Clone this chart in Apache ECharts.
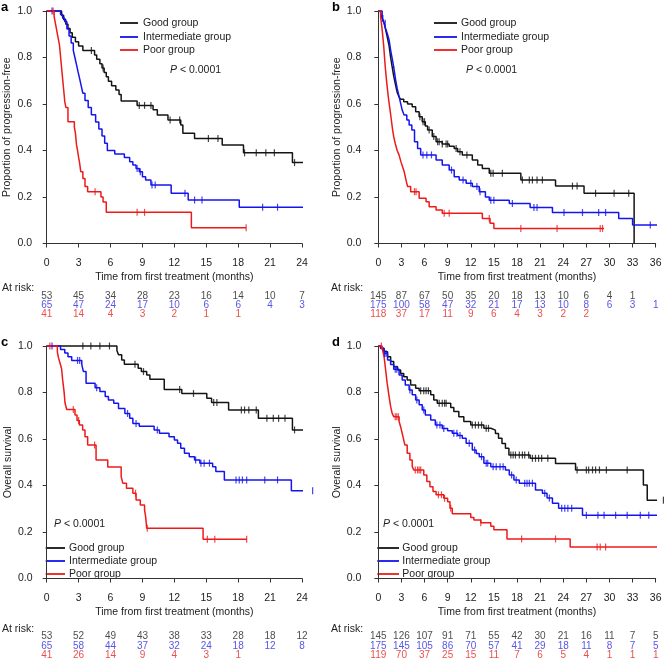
<!DOCTYPE html>
<html><head><meta charset="utf-8">
<script src="https://cdn.jsdelivr.net/npm/echarts@6/dist/echarts.min.js"></script>
<style>html,body{margin:0;padding:0;background:#fff}#c{width:668px;height:660px}</style>
</head><body><div id="c"></div>
<script>
// ---------------- DATA ----------------
const groupNames = ['Good group', 'Intermediate group', 'Poor group'];
const ticksShort = [0, 3, 6, 9, 12, 15, 18, 21, 24];
const ticksLong = [0, 3, 6, 9, 12, 15, 18, 21, 24, 27, 30, 33, 36];

// Panel a: progression-free, cohort 1
const aGoodT = [0,1.4,1.6,1.8,2.0,2.2,2.4,2.7,3.0,3.4,4.5,4.7,5.0,5.2,5.4,5.6,5.8,6.1,6.5,6.8,7.0,8.5,10.0,10.4,11.4,12.6,12.8,13.9,16.5,18.5,23.1];
const aGoodS = [1,0.981,0.962,0.943,0.925,0.906,0.887,0.868,0.849,0.830,0.811,0.792,0.773,0.755,0.736,0.717,0.698,0.679,0.660,0.641,0.613,0.594,0.575,0.553,0.531,0.510,0.474,0.452,0.424,0.390,0.348];
const aGoodEnd = 25.0;
const aGoodCens = [4.2,5.3,8.7,9.2,9.8,11.6,12.5,15.2,16.1,18.6,19.7,20.6,21.4,23.3];
const aInterT = [0,1.3,1.5,1.7,1.9,2.1,2.3,2.5,2.65,2.8,2.95,3.1,3.25,3.4,3.6,3.9,4.2,4.6,4.9,5.2,5.45,5.7,6.4,7.3,7.8,8.1,8.4,8.7,9.0,9.3,9.8,11.7,13.3,18.1];
const aInterS = [1,0.985,0.969,0.954,0.923,0.892,0.862,0.831,0.80,0.769,0.738,0.708,0.677,0.646,0.615,0.585,0.554,0.523,0.492,0.462,0.431,0.40,0.385,0.37,0.352,0.338,0.323,0.309,0.287,0.273,0.252,0.216,0.187,0.156];
const aInterEnd = 25.0;
const aInterCens = [0.5,8.5,8.8,9.9,10.2,13.0,13.9,14.6,20.3,21.7];
const aPoorT = [0,0.7,0.8,0.9,1.0,1.1,1.2,1.3,1.4,1.5,1.6,1.7,1.8,2.0,2.6,2.7,2.75,2.8,2.9,3.0,3.1,3.2,3.4,3.6,3.85,5.1,5.3,5.6,13.6];
const aPoorS = [1,0.976,0.951,0.927,0.902,0.878,0.854,0.805,0.756,0.707,0.659,0.61,0.585,0.524,0.50,0.475,0.45,0.425,0.40,0.37,0.345,0.309,0.28,0.245,0.223,0.20,0.178,0.134,0.068];
const aPoorEnd = 18.75;
const aPoorCens = [0.6,4.55,8.5,9.2,18.75];
const aRiskGood = [53,45,34,28,23,16,14,10,7];
const aRiskInter = [65,47,24,17,10,6,6,4,3];
const aRiskPoor = [41,14,4,3,2,1,1];

// Panel b: progression-free, cohort 2
const bGoodT = [0,0.3,0.5,0.75,0.95,1.15,1.4,1.6,1.8,2.0,2.25,2.45,2.7,2.9,3.3,3.8,4.4,4.85,5.3,5.7,6.1,6.4,7.0,7.5,8.3,9.2,9.85,10.3,10.9,12.2,12.9,13.5,14.4,18.5,23.0,26.7,33.2];
const bGoodS = [1,0.99,0.97,0.95,0.92,0.89,0.85,0.80,0.76,0.72,0.68,0.65,0.63,0.62,0.61,0.60,0.588,0.567,0.545,0.524,0.505,0.488,0.46,0.438,0.428,0.418,0.409,0.395,0.381,0.359,0.338,0.323,0.302,0.273,0.247,0.216,0];
const bGoodEnd = 33.2;
const bGoodCens = [5.4,5.8,6.0,6.6,7.2,7.7,7.9,8.3,8.8,9.0,10.1,10.6,11.5,14.6,14.9,16.1,18.7,19.6,20.0,20.6,21.3,25.2,25.8,28.2,30.6,32.5];
const bInterT = [0,0.5,0.75,0.95,1.15,1.4,1.6,1.8,2.0,2.25,2.45,2.7,2.9,3.1,3.35,3.7,4.0,4.35,4.7,5.1,5.5,7.5,8.3,9.2,9.85,10.5,11.4,12.2,13.1,13.9,14.4,17.0,19.7,22.6,31.2,33.0];
const bInterS = [1,0.968,0.947,0.925,0.904,0.875,0.832,0.796,0.76,0.703,0.667,0.632,0.603,0.574,0.553,0.531,0.51,0.488,0.438,0.409,0.381,0.359,0.338,0.316,0.287,0.273,0.259,0.245,0.223,0.20,0.186,0.172,0.155,0.133,0.108,0.08];
const bInterEnd = 37.3;
const bInterCens = [0.6,0.9,5.8,6.3,6.9,9.5,11.0,12.0,12.8,13.2,14.6,15.0,17.4,20.2,20.6,24.1,26.5,28.6,29.5,35.3];
const bPoorT = [0,0.3,0.5,0.7,0.9,1.1,1.3,1.5,1.7,1.85,2.0,2.2,2.45,2.7,2.95,3.15,3.35,3.5,3.65,3.8,4.2,5.3,6.2,6.6,7.5,8.3,13.5,14.5,15.0];
const bPoorS = [1,0.976,0.92,0.85,0.76,0.69,0.63,0.58,0.53,0.49,0.46,0.43,0.40,0.38,0.35,0.33,0.31,0.287,0.265,0.245,0.223,0.195,0.18,0.158,0.144,0.13,0.108,0.087,0.065];
const bPoorEnd = 29.3;
const bPoorCens = [4.7,4.9,8.55,9.2,14.4,18.5,23.2,28.8,29.1];
const bRiskGood = [145,87,67,50,35,20,18,13,10,6,4,1];
const bRiskInter = [175,100,58,47,32,21,17,13,10,8,6,3,1];
const bRiskPoor = [118,37,17,11,9,6,4,3,2,2];

// Panel c: overall survival, cohort 1
const cGoodT = [0,6.6,6.75,7.05,7.3,8.6,8.9,9.4,9.7,11.05,12.7,15.05,15.5,17.1,19.9,23.1];
const cGoodS = [1,0.981,0.962,0.94,0.921,0.904,0.89,0.875,0.857,0.813,0.796,0.775,0.757,0.725,0.689,0.639];
const cGoodEnd = 25.1;
const cGoodCens = [3.4,4.15,5.0,5.9,8.3,9.1,12.5,13.8,15.7,16.0,18.3,18.6,19.0,19.7,20.7,21.3,21.8,22.4,23.3];
const cInterT = [0,1.3,1.7,2.0,2.35,3.3,3.45,3.7,4.55,5.0,5.5,5.8,6.3,6.75,7.35,7.8,8.1,8.7,10.1,10.6,11.5,12.0,12.3,12.6,12.95,13.4,13.9,14.4,15.6,15.9,16.7,23.0];
const cInterS = [1,0.985,0.97,0.954,0.938,0.92,0.89,0.84,0.82,0.804,0.783,0.768,0.754,0.731,0.71,0.689,0.667,0.655,0.639,0.625,0.61,0.596,0.582,0.56,0.539,0.524,0.51,0.496,0.481,0.46,0.424,0.377];
const cInterEnd = 25.0;
const cInterCens = [0.5,2.9,3.1,4.7,7.6,8.4,10.4,14.0,14.5,14.8,15.3,17.8,18.1,18.4,18.8,20.5,21.7,25.0];
const cPoorT = [0,1.0,1.1,1.25,1.4,1.5,1.63,1.72,1.88,2.66,2.85,3.07,3.38,3.6,3.85,4.64,5.74,7.0,7.15,7.5,8.1,8.4,8.8,9.2,9.3,9.4,14.7];
const cPoorS = [1,0.976,0.951,0.927,0.902,0.854,0.805,0.756,0.727,0.703,0.68,0.66,0.639,0.61,0.574,0.51,0.48,0.438,0.41,0.388,0.367,0.338,0.316,0.295,0.266,0.216,0.169];
const cPoorEnd = 18.8;
const cPoorCens = [0.3,2.5,3.0,4.5,8.35,9.45,15.1,15.8,18.8];
const cRiskGood = [53,52,49,43,38,33,28,18,12];
const cRiskInter = [65,58,44,37,32,24,18,12,8];
const cRiskPoor = [41,26,14,9,4,3,1];

// Panel d: overall survival, cohort 2
const dGoodT = [0,0.3,0.75,1.2,1.6,2.0,2.5,2.9,3.3,3.75,4.2,4.85,5.3,6.8,7.2,7.65,9.4,9.8,10.45,11.1,12.0,13.7,14.6,15.2,15.6,16.05,16.5,16.95,19.7,23.0,25.6,34.4,34.9];
const dGoodS = [1,0.99,0.975,0.954,0.933,0.911,0.897,0.882,0.868,0.854,0.832,0.818,0.808,0.79,0.768,0.754,0.735,0.718,0.696,0.675,0.66,0.646,0.638,0.624,0.603,0.581,0.56,0.531,0.517,0.495,0.467,0.402,0.337];
const dGoodEnd = 37.0;
const dGoodCens = [5.5,5.9,6.2,6.5,7.9,8.3,8.6,8.8,12.2,12.6,13.0,13.4,14.0,14.3,17.2,17.5,17.8,18.3,18.7,19.0,19.5,20.0,20.4,20.8,21.2,22.0,25.8,27.0,27.3,27.8,28.2,28.7,29.6,32.3,37.0];
const dInterT = [0,0.3,0.7,1.2,1.6,2.0,2.7,3.1,3.5,4.0,4.4,4.85,5.3,5.7,6.1,6.8,7.4,8.3,9.0,9.6,10.3,10.9,11.4,12.2,12.7,13.1,13.7,14.6,16.5,17.0,17.6,18.3,20.4,21.3,21.9,22.6,23.4,26.5];
const dInterS = [1,0.99,0.968,0.94,0.92,0.90,0.875,0.854,0.832,0.811,0.79,0.768,0.747,0.725,0.703,0.682,0.66,0.645,0.635,0.625,0.615,0.603,0.582,0.553,0.538,0.524,0.496,0.481,0.467,0.445,0.424,0.41,0.381,0.367,0.346,0.324,0.302,0.272];
const dInterEnd = 37.4;
const dInterCens = [0.8,1.0,2.2,2.4,4.1,5.0,5.9,7.6,8.0,8.5,9.8,10.2,10.6,11.8,12.5,13.4,14.0,14.2,14.9,15.3,15.8,16.2,17.3,17.9,19.0,19.3,19.6,20.0,21.6,22.2,23.8,24.2,24.6,25.1,27.0,28.5,29.3,30.8,32.3,34.0,35.1];
const dPoorT = [0,0.5,0.75,0.95,1.15,1.4,1.6,1.8,2.0,2.7,2.95,3.2,3.45,3.75,4.1,4.4,4.6,5.9,6.3,6.7,7.1,7.5,8.5,9.0,9.3,9.6,12.0,12.4,13.3,14.6,15.0,16.7,24.9];
const dPoorS = [1,0.99,0.954,0.897,0.84,0.782,0.74,0.71,0.696,0.675,0.646,0.61,0.574,0.539,0.51,0.482,0.467,0.445,0.417,0.395,0.374,0.36,0.345,0.33,0.302,0.278,0.262,0.252,0.24,0.225,0.21,0.17,0.135];
const dPoorEnd = 37.4;
const dPoorCens = [0.4,2.2,2.4,2.6,4.8,5.1,5.3,5.5,7.8,8.2,8.6,9.4,13.3,18.6,23.0,28.4,28.8,29.5];
const dRiskGood = [145,126,107,91,71,55,42,30,21,16,11,7,5];
const dRiskInter = [175,145,105,86,70,57,41,29,18,11,8,7,5];
const dRiskPoor = [119,70,37,25,15,11,7,6,5,4,1,1,1];

// ---------------- LAYOUT / STYLE ----------------
const FONT = '"Liberation Sans", Arial, Helvetica, sans-serif';
const COLORS = ['#141414', '#1414ee', '#ee1a1a'];
const RISK_COLORS = ['#1a1a1a', '#2a2ae0', '#e52222'];
const AXIS_COLOR = '#333';

const panels = [
  { letter:'a', left:46.7, width:255.3, top:11, xmax:24, ticks:ticksShort, yAxisX:38, xAxisY:253, nameGap:19, lblMargin:5,
    yName:'Proportion of progression-free',
    curves:[[aGoodT,aGoodS,aGoodEnd,aGoodCens],[aInterT,aInterS,aInterEnd,aInterCens],[aPoorT,aPoorS,aPoorEnd,aPoorCens]],
    risk:[aRiskGood,aRiskInter,aRiskPoor], riskTop:291.5, riskRow:9.0, atRisk:[2,288.5],
    leg:{x1:120,x2:138,tx:143,ys:[23,37,50]}, pv:[170,70], let:[1,7] },
  { letter:'b', left:378.3, width:277.4, top:11, xmax:36, ticks:ticksLong, yAxisX:367.3, xAxisY:253, nameGap:19, lblMargin:5,
    yName:'Proportion of progression-free',
    curves:[[bGoodT,bGoodS,bGoodEnd,bGoodCens],[bInterT,bInterS,bInterEnd,bInterCens],[bPoorT,bPoorS,bPoorEnd,bPoorCens]],
    risk:[bRiskGood,bRiskInter,bRiskPoor], riskTop:291.5, riskRow:9.0, atRisk:[331,288.5],
    leg:{x1:434,x2:457,tx:461,ys:[23,37,50]}, pv:[466,70], let:[332,7] },
  { letter:'c', left:46.7, width:255.3, top:346, xmax:24, ticks:ticksShort, yAxisX:38.5, xAxisY:587, nameGap:20, lblMargin:6,
    yName:'Overall survival',
    curves:[[cGoodT,cGoodS,cGoodEnd,cGoodCens],[cInterT,cInterS,cInterEnd,cInterCens],[cPoorT,cPoorS,cPoorEnd,cPoorCens]],
    risk:[cRiskGood,cRiskInter,cRiskPoor], riskTop:632, riskRow:10, atRisk:[2,629],
    leg:{x1:45.7,x2:65,tx:69,ys:[548,561,574]}, pv:[54,524], let:[1,342] },
  { letter:'d', left:378.3, width:277.4, top:346, xmax:36, ticks:ticksLong, yAxisX:367.3, xAxisY:587, nameGap:20, lblMargin:6,
    yName:'Overall survival',
    curves:[[dGoodT,dGoodS,dGoodEnd,dGoodCens],[dInterT,dInterS,dInterEnd,dInterCens],[dPoorT,dPoorS,dPoorEnd,dPoorCens]],
    risk:[dRiskGood,dRiskInter,dRiskPoor], riskTop:632, riskRow:10, atRisk:[331,629],
    leg:{x1:377.3,x2:399,tx:402.3,ys:[548,561,574]}, pv:[383,524], let:[332,342] }
];
const PLOT_H = 232.5;

function stepVal(T, S, t) {
  let v = S[0];
  for (let i = 0; i < T.length; i++) { if (T[i] <= t) v = S[i]; else break; }
  return v;
}

const grid = [], xAxis = [], yAxis = [], series = [], graphic = [];
panels.forEach((p, pi) => {
  const gMain = grid.length;
  grid.push({ left:p.left, top:p.top, width:p.width, height:PLOT_H, containLabel:false });
  grid.push({ left:p.left, top:p.riskTop, width:p.width, height:p.riskRow*3, containLabel:false });
  xAxis.push({
    gridIndex:gMain, type:'value', min:0, max:p.xmax, interval:3,
    offset: p.xAxisY - (p.top + PLOT_H),
    name:'Time from first treatment (months)', nameLocation:'middle', nameGap:p.nameGap,
    nameTextStyle:{ fontFamily:FONT, fontSize:10.5, color:'#222' },
    axisLine:{ show:true, lineStyle:{ color:AXIS_COLOR, width:1 } },
    axisTick:{ show:true, length:4, lineStyle:{ color:AXIS_COLOR } },
    axisLabel:{ fontFamily:FONT, fontSize:10.5, color:'#222', margin:p.lblMargin },
    splitLine:{ show:false }
  });
  xAxis.push({ gridIndex:gMain+1, type:'value', min:0, max:p.xmax, show:false });
  yAxis.push({
    gridIndex:gMain, type:'value', min:0, max:1, interval:0.2,
    offset: p.left - p.yAxisX,
    name:p.yName, nameLocation:'middle', nameGap:25,
    nameTextStyle:{ fontFamily:FONT, fontSize:10.5, color:'#222' },
    axisLine:{ show:true, lineStyle:{ color:AXIS_COLOR, width:1 } },
    axisTick:{ show:true, length:4, lineStyle:{ color:AXIS_COLOR } },
    axisLabel:{ fontFamily:FONT, fontSize:10.5, color:'#222', margin:6, formatter:v => v.toFixed(1) },
    splitLine:{ show:false }
  });
  yAxis.push({ gridIndex:gMain+1, type:'category', data:['0','1','2'], inverse:true, show:false, boundaryGap:true });

  const xi = pi*2, yi = pi*2;
  p.curves.forEach((c, gi) => {
    const [T, S, end, cens] = c;
    const pts = T.map((t, i) => [t, S[i]]);
    if (end > T[T.length-1]) pts.push([end, S[S.length-1]]);
    series.push({
      type:'line', name:groupNames[gi], xAxisIndex:xi, yAxisIndex:yi, data:pts, step:'end',
      showSymbol:false, symbol:'none', clip:false, silent:true, z:2,
      lineStyle:{ color:COLORS[gi], width:1.5 }
    });
    series.push({
      type:'scatter', name:groupNames[gi]+' censored', xAxisIndex:xi, yAxisIndex:yi, clip:false, silent:true,
      data:cens.map(t => [t, stepVal(T, S, t)]),
      symbol:'rect', symbolSize:[1.2, 7], itemStyle:{ color:COLORS[gi] }, z:3
    });
  });
  // at-risk table rows
  p.risk.forEach((row, gi) => {
    series.push({
      type:'scatter', xAxisIndex:xi+1, yAxisIndex:yi+1, silent:true, symbolSize:0,
      data:row.map((n, k) => [p.ticks[k], String(gi), n]),
      label:{ show:true, position:'inside', formatter:d => d.value[2], fontFamily:FONT, fontSize:10, color:RISK_COLORS[gi] }
    });
  });

  graphic.push({ type:'text', x:p.let[0], y:p.let[1], style:{ text:p.letter, fontFamily:FONT, fontSize:13, fontWeight:'bold', fill:'#000', align:'left', verticalAlign:'middle' } });
  groupNames.forEach((nm, gi) => {
    graphic.push({ type:'line', shape:{ x1:p.leg.x1, y1:p.leg.ys[gi], x2:p.leg.x2, y2:p.leg.ys[gi] }, style:{ stroke:COLORS[gi], lineWidth:1.8 } });
    graphic.push({ type:'text', x:p.leg.tx, y:p.leg.ys[gi], style:{ text:nm, fontFamily:FONT, fontSize:10.5, fill:'#222', align:'left', verticalAlign:'middle' } });
  });
  graphic.push({ type:'text', x:p.pv[0], y:p.pv[1], style:{ text:'{i|P} < 0.0001', fontFamily:FONT, fontSize:10.5, fill:'#222', align:'left', verticalAlign:'middle',
    rich:{ i:{ fontFamily:FONT, fontSize:10.5, fontStyle:'italic', fill:'#222' } } } });
  graphic.push({ type:'text', x:p.atRisk[0], y:p.atRisk[1], style:{ text:'At risk:', fontFamily:FONT, fontSize:10.5, fill:'#222', align:'left', verticalAlign:'middle' } });
});

const chart = echarts.init(document.getElementById('c'), null, { renderer:'canvas' });
chart.setOption({
  backgroundColor:'#fff', animation:false,
  grid, xAxis, yAxis, series, graphic
});
</script></body></html>
